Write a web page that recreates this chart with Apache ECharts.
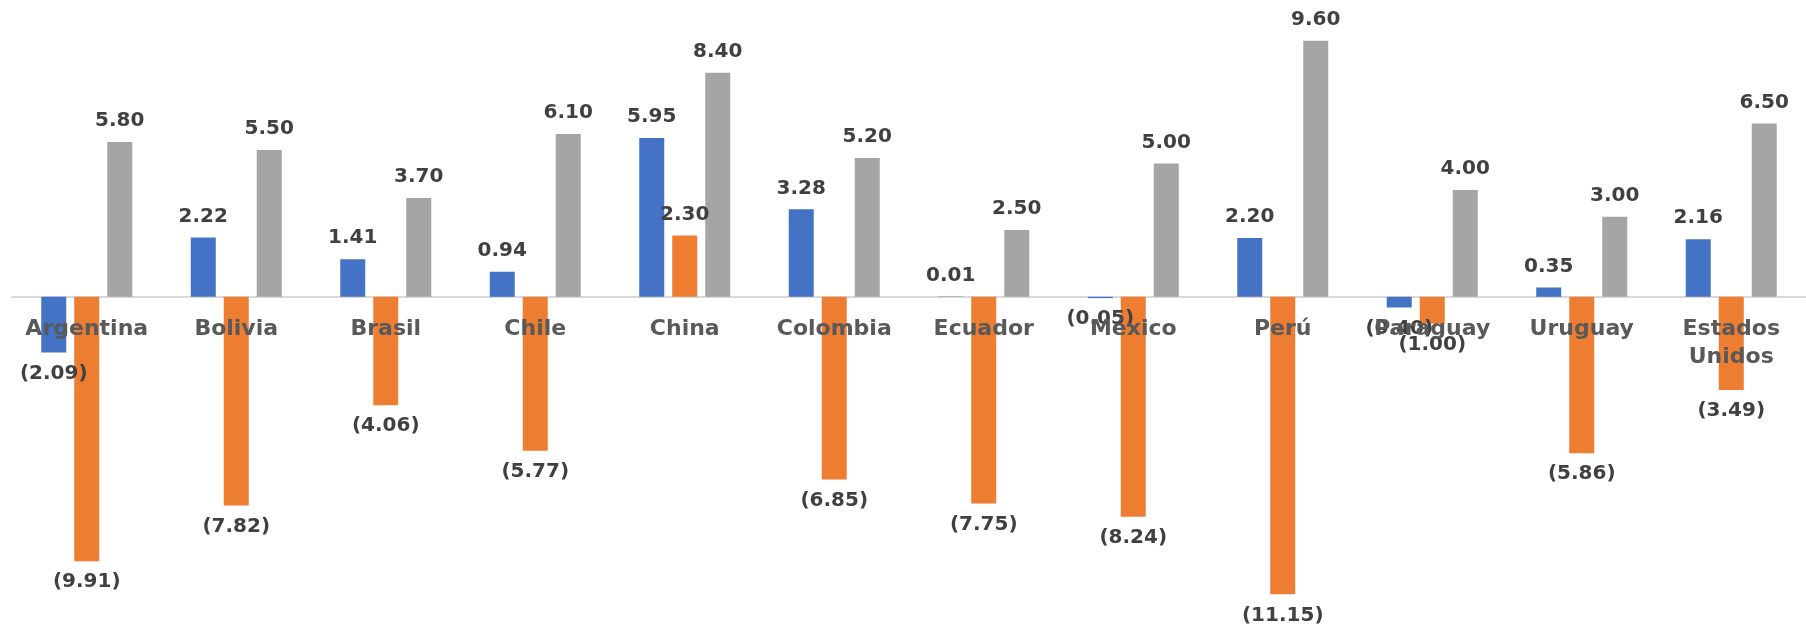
<!DOCTYPE html>
<html>
<head>
<meta charset="utf-8">
<script src="https://cdn.jsdelivr.net/npm/echarts@6/dist/echarts.min.js"></script>
<style>
html,body{margin:0;padding:0;background:#fff;}
#chart{width:1806px;height:627px;}
</style>
</head>
<body>
<div id="chart"></div>
<script>
const categories = ['Argentina','Bolivia','Brasil','Chile','China','Colombia','Ecuador','México','Perú','Paraguay','Uruguay','Estados\nUnidos'];
const seriesA = [-2.09, 2.22, 1.41, 0.94, 5.95, 3.28, 0.01, -0.05, 2.20, -0.40, 0.35, 2.16];
const seriesB = [-9.91, -7.82, -4.06, -5.77, 2.30, -6.85, -7.75, -8.24, -11.15, -1.00, -5.86, -3.49];
const seriesC = [5.80, 5.50, 3.70, 6.10, 8.40, 5.20, 2.50, 5.00, 9.60, 4.00, 3.00, 6.50];
const colors = ['#4472C4', '#ED7D31', '#A5A5A5'];

const Y_MIN = -12, Y_MAX = 10;
const GRID_TOP = 30, GRID_BOTTOM = 10, H = 627;
const plotH = H - GRID_TOP - GRID_BOTTOM;
const zeroOffset = -(plotH * (0 - Y_MIN) / (Y_MAX - Y_MIN));

function fmt(v) {
  return v < 0 ? '(' + Math.abs(v).toFixed(2) + ')' : v.toFixed(2);
}
function toData(arr) {
  return arr.map(v => ({
    value: v,
    label: { position: v < 0 ? 'bottom' : 'top' }
  }));
}
const labelStyle = {
  show: true,
  distance: 11,
  fontFamily: 'DejaVu Sans',
  fontWeight: 'bold',
  fontSize: 20,
  color: '#404040',
  formatter: p => fmt(p.value)
};
function mk(name, arr, color) {
  return {
    name: name,
    type: 'bar',
    data: toData(arr),
    barWidth: 25,
    barGap: '32%',
    z: 2,
    itemStyle: { color: color },
    label: labelStyle
  };
}
const chart = echarts.init(document.getElementById('chart'));
chart.setOption({
  animation: false,
  grid: { left: 12, right: 0, top: GRID_TOP, bottom: GRID_BOTTOM, containLabel: false, outerBoundsMode: 'none' },
  xAxis: [{
    type: 'category',
    data: categories,
    position: 'bottom',
    offset: zeroOffset,
    z: 0,
    axisLine: { onZero: false, lineStyle: { color: '#D9D9D9', width: 2 } },
    axisTick: { show: false },
    axisLabel: { show: false }
  }, {
    type: 'category',
    data: categories,
    position: 'bottom',
    offset: zeroOffset,
    z: 5,
    axisLine: { show: false, onZero: false },
    axisTick: { show: false },
    axisLabel: {
      interval: 0,
      margin: 18,
      fontFamily: 'DejaVu Sans',
      fontWeight: 'bold',
      fontSize: 22,
      color: '#595959',
      lineHeight: 28
    }
  }],
  yAxis: {
    type: 'value',
    min: Y_MIN,
    max: Y_MAX,
    show: false,
    splitLine: { show: false }
  },
  series: [
    mk('A', seriesA, colors[0]),
    mk('B', seriesB, colors[1]),
    mk('C', seriesC, colors[2])
  ]
});
</script>
</body>
</html>
